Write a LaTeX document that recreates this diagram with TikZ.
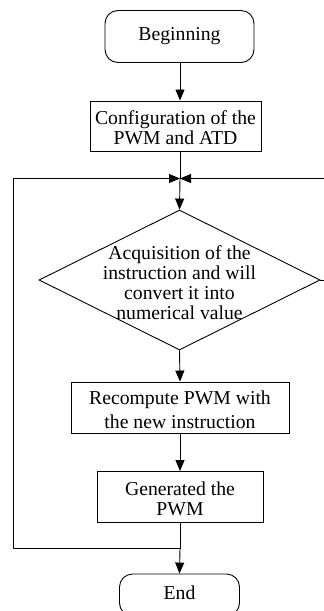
\documentclass[tikz,border=0pt]{standalone}
\usepackage{fontspec}
\setmainfont{Liberation Serif}
\usetikzlibrary{arrows.meta,shapes.geometric}
\begin{document}
\begin{tikzpicture}[x=1pt,y=-1pt,
  every node/.style={font=\fontsize{19.7pt}{20pt}\selectfont, inner sep=0pt},
  line/.style={line width=0.9pt},
  arr/.style={line, -{Triangle[length=11pt,width=9pt]}},
  term/.style={draw, line width=0.9pt, rounded corners=13pt, align=center},
  proc/.style={draw, line width=0.9pt, align=center},
  dec/.style={draw, line width=0.9pt, diamond}
]
\useasboundingbox (0,0) rectangle (324,611);
\clip (0,0) rectangle (324,611);
\node[term, minimum width=149pt, minimum height=52pt] (beg) at (179.5,36.5) {Beginning};
\node[proc, minimum width=171pt, minimum height=50pt] (cfg) at (175.5,126) {};
\node[font=\fontsize{19.7pt}{20pt}\selectfont, align=center] (cfgt) at (175.5,128) {Configuration of the\\PWM and ATD};
\node[dec, minimum width=281pt, minimum height=140pt] (dc) at (179.5,280) {};
\node[align=center] (dct) at (179.5,283) {Acquisition of the\\instruction and will\\convert it into\\numerical value};
\node[proc, minimum width=218pt, minimum height=51pt] (rec) at (180,407.5) {};
\node[align=center, font=\fontsize{19.7pt}{24pt}\selectfont] (rect) at (180,409.5) {Recompute PWM with\\the new instruction};
\node[proc, minimum width=166pt, minimum height=51pt] (gen) at (180,497) {};
\node[align=center] (gent) at (180,499) {Generated the\\PWM};
\node[term, minimum width=120pt, minimum height=42pt] (end) at (179.5,595) {};
\node (endt) at (179.5,593) {End};
\coordinate (jt) at (180,178.5);
\coordinate (jb) at (180,548.5);
\coordinate (lt) at (13.5,178.5);
\coordinate (lb) at (13.5,548.5);
\coordinate (rt) at (326,178.5);
\coordinate (rm) at (326,280);
\draw[arr] (beg.south -| 180,0) -- (180,100.5);
\draw[line] (cfg.south -| jt) -- (jt);
\draw[arr] (jt) -- (dc.north);
\draw[arr] (dc.south) -- (rec.north);
\draw[arr] (rec.south) -- (gen.north);
\draw[line] (gen.south) -- (jb);
\draw[arr] (jb) -- (end.north);
\draw[arr] (jb) -- (lb) -- (lt) -- (jt);
\draw[arr] (rt) -- (jt);
\draw[line] (dc.east) -- (rm);
\end{tikzpicture}
\end{document}
